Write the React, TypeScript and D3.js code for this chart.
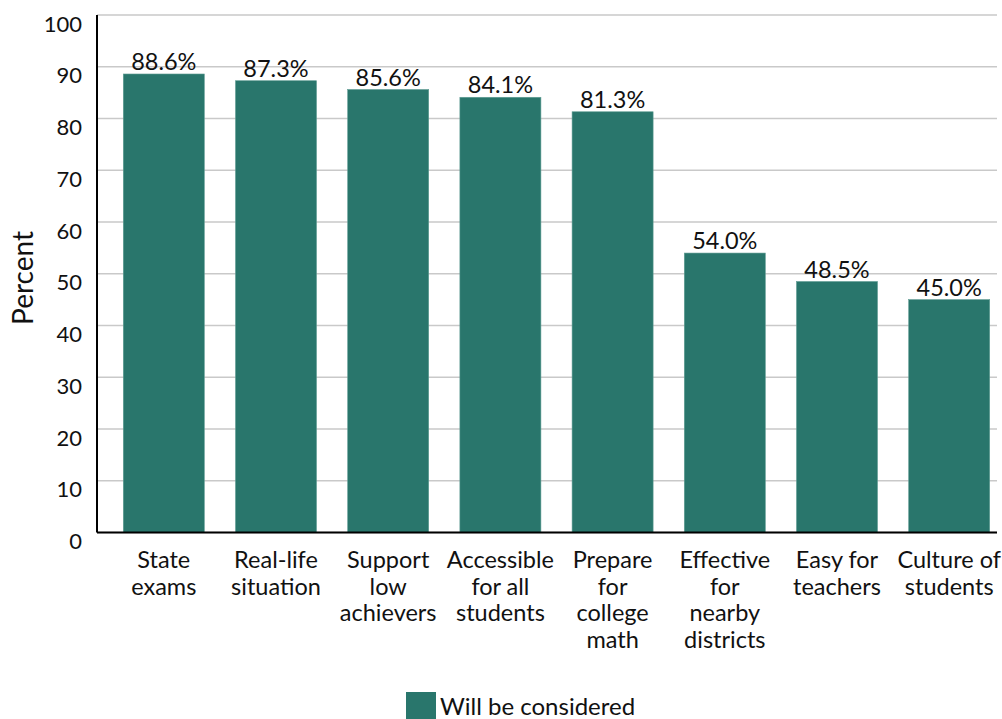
import React from "react";
import * as d3 from "d3";

const categories: string[][] = [
  ["State", "exams"],
  ["Real-life", "situation"],
  ["Support", "low", "achievers"],
  ["Accessible", "for all", "students"],
  ["Prepare", "for", "college", "math"],
  ["Effective", "for", "nearby", "districts"],
  ["Easy for", "teachers"],
  ["Culture of", "students"],
];
const values: number[] = [88.6, 87.3, 85.6, 84.1, 81.3, 54.0, 48.5, 45.0];
const yTicks: number[] = [0, 10, 20, 30, 40, 50, 60, 70, 80, 90, 100];
const seriesName = "Will be considered";
const yTitle = "Percent";

const W = 1002;
const H = 719;
const FONT = "Lato, 'Open Sans', sans-serif";
const BAR = "#29766c";

export default function App() {
  const axisX0 = 97;
  const axisX1 = 997;
  const y = d3.scaleLinear().domain([0, 100]).range([532.5, 15]);
  const keys = categories.map((_, i) => String(i));
  const x = d3
    .scaleBand<string>()
    .domain(keys)
    .range([107.7, 1005.3])
    .paddingInner(0.278)
    .paddingOuter(0.139);
  const cx = (i: number) => (x(String(i)) as number) + x.bandwidth() / 2;

  return (
    <svg
      width={W}
      height={H}
      style={{ position: "absolute", left: 0, top: 0, background: "#fff" }}
      fontFamily={FONT}
      fontWeight={400}
    >
      {yTicks.map((t) => (
        <line
          key={"g" + t}
          x1={axisX0}
          x2={axisX1}
          y1={y(t)}
          y2={y(t)}
          stroke="#c9c9c9"
          strokeWidth={1.5}
        />
      ))}
      {yTicks.map((t) => (
        <text
          key={"t" + t}
          x={82}
          y={y(t) + 16.5}
          textAnchor="end"
          fontSize={22}
          fill="#111"
        >
          {t}
        </text>
      ))}
      {values.map((v, i) => (
        <rect
          key={"b" + i}
          x={x(String(i))}
          y={y(v)}
          width={x.bandwidth()}
          height={y(0) - y(v)}
          fill={BAR}
          stroke="#5f9c93"
          strokeWidth={0.6}
        />
      ))}
      {values.map((v, i) => (
        <text
          key={"v" + i}
          x={cx(i)}
          y={y(v) - 4}
          textAnchor="middle"
          fontSize={23.5}
          fill="#111"
        >
          {v.toFixed(1) + "%"}
        </text>
      ))}
      <line x1={axisX0} x2={axisX1} y1={y(0)} y2={y(0)} stroke="#000" strokeWidth={2} />
      <line x1={axisX0} x2={axisX0} y1={y(100)} y2={y(0)} stroke="#000" strokeWidth={2} />
      {categories.map((lines, i) => (
        <text key={"c" + i} textAnchor="middle" fontSize={23.5} fill="#111">
          {lines.map((ln, j) => (
            <tspan key={j} x={cx(i)} y={568 + j * 26.7}>
              {ln}
            </tspan>
          ))}
        </text>
      ))}
      <text
        transform={`translate(33,278) rotate(-90)`}
        textAnchor="middle"
        fontSize={28}
        fill="#111"
      >
        {yTitle}
      </text>
      <rect x={406} y={692} width={30} height={30} fill={BAR} />
      <text x={440} y={715} fontSize={24} fill="#111">
        {seriesName}
      </text>
    </svg>
  );
}
